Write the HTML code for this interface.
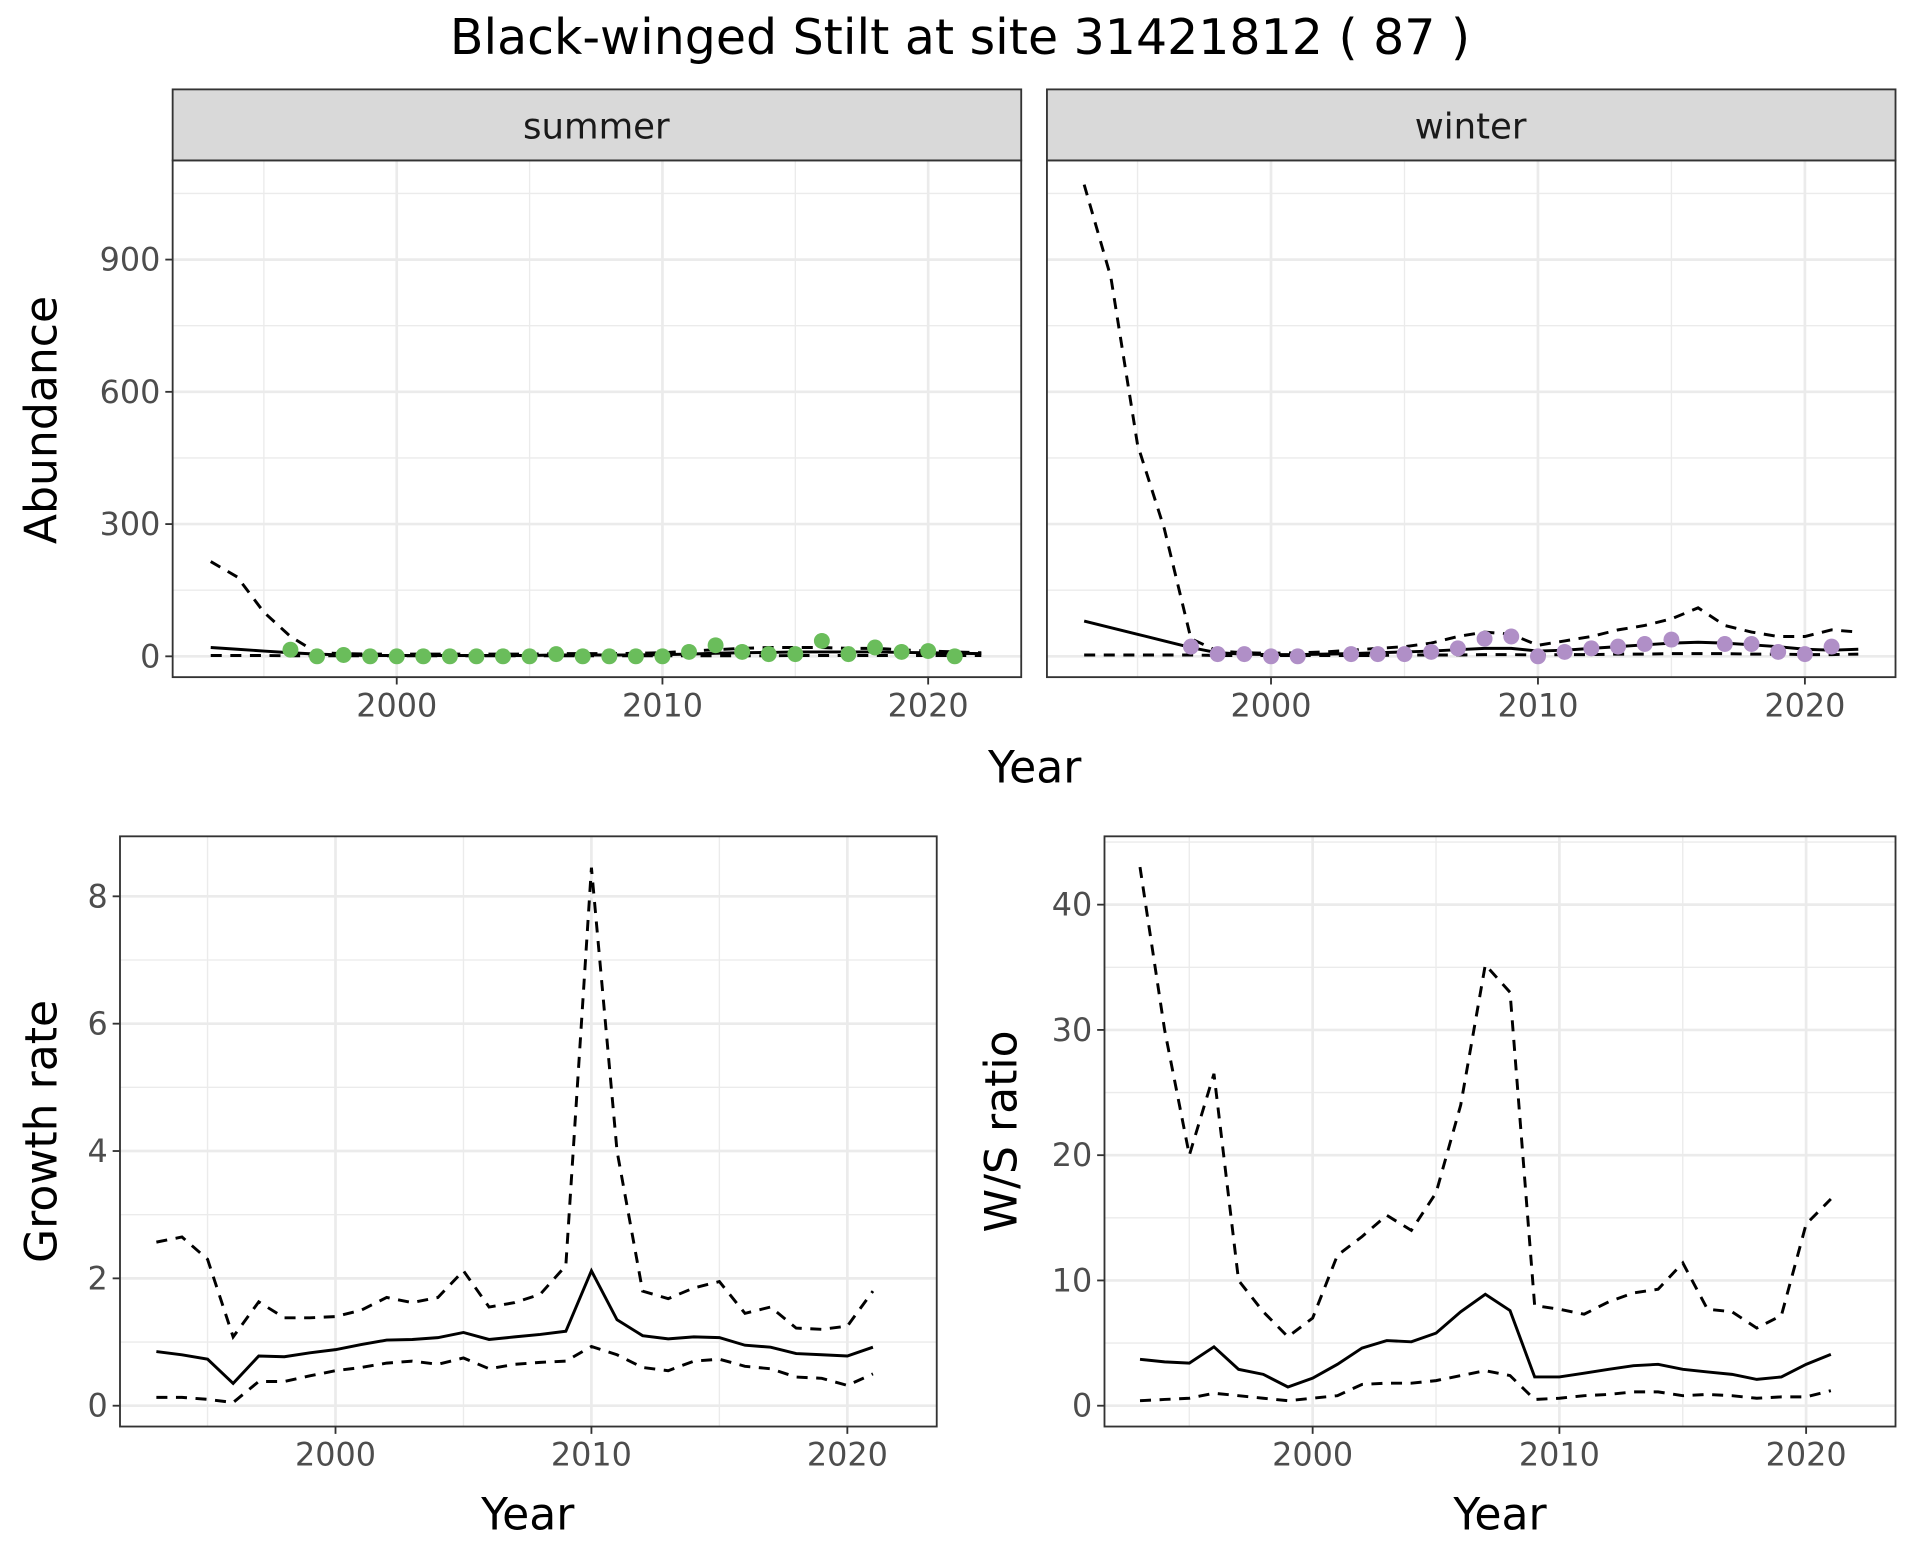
<!DOCTYPE html>
<html><head><meta charset="utf-8"><style>
html,body{margin:0;padding:0;background:#fff;}
svg{display:block;}
text{font-family:"DejaVu Sans","Liberation Sans",sans-serif;}
</style></head><body>
<svg id="s" width="1920" height="1560" viewBox="0 0 1568 1274" xmlns="http://www.w3.org/2000/svg"></svg>
<script>
const s=document.getElementById('s');let h='';
h+='<rect width="1568" height="1274" fill="#fff"/>';
h+='<text x="784" y="44" font-size="40" text-anchor="middle" fill="#000">Black-winged Stilt at site 31421812 ( 87 )</text>';
function panel(o){
 const {x0,x1,y0,y1,xs,ys,xt,yt,xmin,ymin,ylab,ylabShow}=o;
 const X=v=>xs[0]+(v-xt[0])*xs[1], Y=v=>ys[0]-(v-yt[0])*ys[1];
 h+=`<rect x="${x0}" y="${y0}" width="${x1-x0}" height="${y1-y0}" fill="#fff"/>`;
 for(const v of xmin) h+=`<line x1="${X(v)}" x2="${X(v)}" y1="${y0}" y2="${y1}" stroke="#ebebeb" stroke-width="1.1"/>`;
 for(const v of ymin){const y=Y(v); if(y>y0&&y<y1) h+=`<line x1="${x0}" x2="${x1}" y1="${y}" y2="${y}" stroke="#ebebeb" stroke-width="1.1"/>`;}
 for(const v of xt) h+=`<line x1="${X(v)}" x2="${X(v)}" y1="${y0}" y2="${y1}" stroke="#ebebeb" stroke-width="2.2"/>`;
 for(const v of yt) h+=`<line x1="${x0}" x2="${x1}" y1="${Y(v)}" y2="${Y(v)}" stroke="#ebebeb" stroke-width="2.2"/>`;
 for(const v of xt){h+=`<line x1="${X(v)}" x2="${X(v)}" y1="${y1}" y2="${y1+6}" stroke="#333" stroke-width="1.5"/><text x="${X(v)}" y="${y1+32}" font-size="26" fill="#4d4d4d" text-anchor="middle">${v}</text>`;}
 if(ylabShow) for(const v of yt){h+=`<line x1="${x0-6}" x2="${x0}" y1="${Y(v)}" y2="${Y(v)}" stroke="#333" stroke-width="1.5"/><text x="${x0-10}" y="${Y(v)+9}" font-size="26" fill="#4d4d4d" text-anchor="end">${v}</text>`;}
 o.X=X;o.Y=Y;return o;
}
function line(p,yr0,d,dash){const pts=d.map((v,i)=>p.X(yr0+i).toFixed(1)+','+p.Y(v).toFixed(1)).join(' ');h+=`<polyline points="${pts}" fill="none" stroke="#000" stroke-width="2.4" ${dash?'stroke-dasharray="9,7"':''}/>`;}
function pts(p,yr0,d,c){d.forEach((v,i)=>{if(v!=null)h+=`<circle cx="${p.X(yr0+i)}" cy="${p.Y(v)}" r="6.5" fill="${c}"/>`;});}
function frame(x0,x1,y0,y1){h+=`<rect x="${x0}" y="${y0}" width="${x1-x0}" height="${y1-y0}" fill="none" stroke="#333" stroke-width="1.5"/>`;}
const ty={ys:[536,0.36],yt:[0,300,600,900],ymin:[150,450,750,1050]};
const A=panel(Object.assign({x0:141,x1:834,y0:131,y1:553,xs:[324,21.7],xt:[2000,2010,2020],xmin:[1995,2005,2015],ylabShow:true},ty));
line(A,1993,[20,16,12,8,5,3,2,2,2,2,2,2,2,3,3,3,3,4,5,7,8,9,10,10,10,10,9,8,7,6],false);
line(A,1993,[215,180,100,45,8,6,5,5,5,5,5,5,5,6,6,6,7,8,12,15,18,20,20,20,18,18,15,12,10,8],true);
line(A,1993,[2,2,2,1,1,1,1,1,1,1,1,1,1,1,1,1,1,1,1,1,1,1,2,2,2,2,2,2,2,2],true);
pts(A,1996,[15,0,3,0,0,0,0,0,0,0,5,0,0,0,0,10,25,10,5,5,35,5,20,10,12,0],'#6abd5b');
frame(141,834,131,553);
const B=panel(Object.assign({x0:855,x1:1548,y0:131,y1:553,xs:[1038,21.8],xt:[2000,2010,2020],xmin:[1995,2005,2015],ylabShow:false},ty));
line(B,1993,[80,65,50,35,20,8,5,4,4,5,6,8,10,12,15,18,18,12,14,18,22,26,30,32,30,26,22,16,14,16],false);
line(B,1993,[1070,860,480,290,40,12,8,7,8,10,14,18,22,30,45,55,50,25,35,45,60,70,85,110,70,55,45,45,60,55],true);
line(B,1993,[3,3,3,3,3,2,2,2,2,2,2,2,3,3,3,4,4,3,4,4,5,5,6,6,6,5,5,4,4,5],true);
pts(B,1997,[22,5,5,0,0,null,5,5,5,10,18,40,45,0,10,18,22,28,38,null,28,28,10,5,22],'#b08fc7');
frame(855,1548,131,553);
h+=`<rect x="141" y="73" width="693" height="58" fill="#d9d9d9" stroke="#333" stroke-width="1.5"/><text x="487" y="113" font-size="29" text-anchor="middle" fill="#1a1a1a">summer</text>`;
h+=`<rect x="855" y="73" width="693" height="58" fill="#d9d9d9" stroke="#333" stroke-width="1.5"/><text x="1201" y="113" font-size="29" text-anchor="middle" fill="#1a1a1a">winter</text>`;
h+=`<text x="845" y="639" font-size="36" text-anchor="middle">Year</text>`;
h+=`<text transform="translate(46,343) rotate(-90)" font-size="36" text-anchor="middle">Abundance</text>`;
const C=panel({x0:98,x1:765,y0:683,y1:1165,xs:[274,20.9],xt:[2000,2010,2020],xmin:[1995,2005,2015],ys:[1148,52],yt:[0,2,4,6,8],ymin:[1,3,5,7,9],ylabShow:true});
line(C,1993,[.85,.8,.73,.35,.78,.77,.83,.88,.96,1.03,1.04,1.07,1.15,1.04,1.08,1.12,1.17,2.12,1.35,1.1,1.05,1.08,1.07,.95,.92,.82,.8,.78,.92],false);
line(C,1993,[2.57,2.65,2.3,1.08,1.63,1.38,1.38,1.4,1.5,1.7,1.62,1.7,2.12,1.55,1.62,1.75,2.2,8.45,4.0,1.8,1.68,1.85,1.95,1.45,1.55,1.22,1.2,1.25,1.8],true);
line(C,1993,[.13,.13,.1,.05,.38,.38,.47,.55,.6,.67,.7,.65,.75,.58,.65,.68,.7,.93,.8,.6,.55,.7,.73,.62,.58,.45,.43,.32,.5],true);
frame(98,765,683,1165);
h+=`<text x="431" y="1249" font-size="36" text-anchor="middle">Year</text>`;
h+=`<text transform="translate(46,924) rotate(-90)" font-size="36" text-anchor="middle">Growth rate</text>`;
const D=panel({x0:902,x1:1548,y0:683,y1:1165,xs:[1072,20.15],xt:[2000,2010,2020],xmin:[1995,2005,2015],ys:[1148,10.23],yt:[0,10,20,30,40],ymin:[5,15,25,35,45],ylabShow:true});
line(D,1993,[3.7,3.5,3.4,4.7,2.9,2.5,1.5,2.2,3.3,4.6,5.2,5.1,5.8,7.5,8.9,7.6,2.3,2.3,2.6,2.9,3.2,3.3,2.9,2.7,2.5,2.1,2.3,3.3,4.1],false);
line(D,1993,[43,30,20,26.5,10,7.5,5.5,7,12,13.5,15.2,14,17,24,35.2,33,8,7.7,7.3,8.3,9,9.3,11.4,7.7,7.5,6.2,7.2,14.5,16.5],true);
line(D,1993,[.4,.5,.6,1,.8,.6,.4,.6,.8,1.7,1.8,1.8,2,2.4,2.8,2.4,.5,.6,.8,.9,1.1,1.1,.8,.9,.8,.6,.7,.7,1.2],true);
frame(902,1548,683,1165);
h+=`<text x="1225" y="1249" font-size="36" text-anchor="middle">Year</text>`;
h+=`<text transform="translate(830,924) rotate(-90)" font-size="36" text-anchor="middle">W/S ratio</text>`;
s.innerHTML=h;
</script>
</body></html>
